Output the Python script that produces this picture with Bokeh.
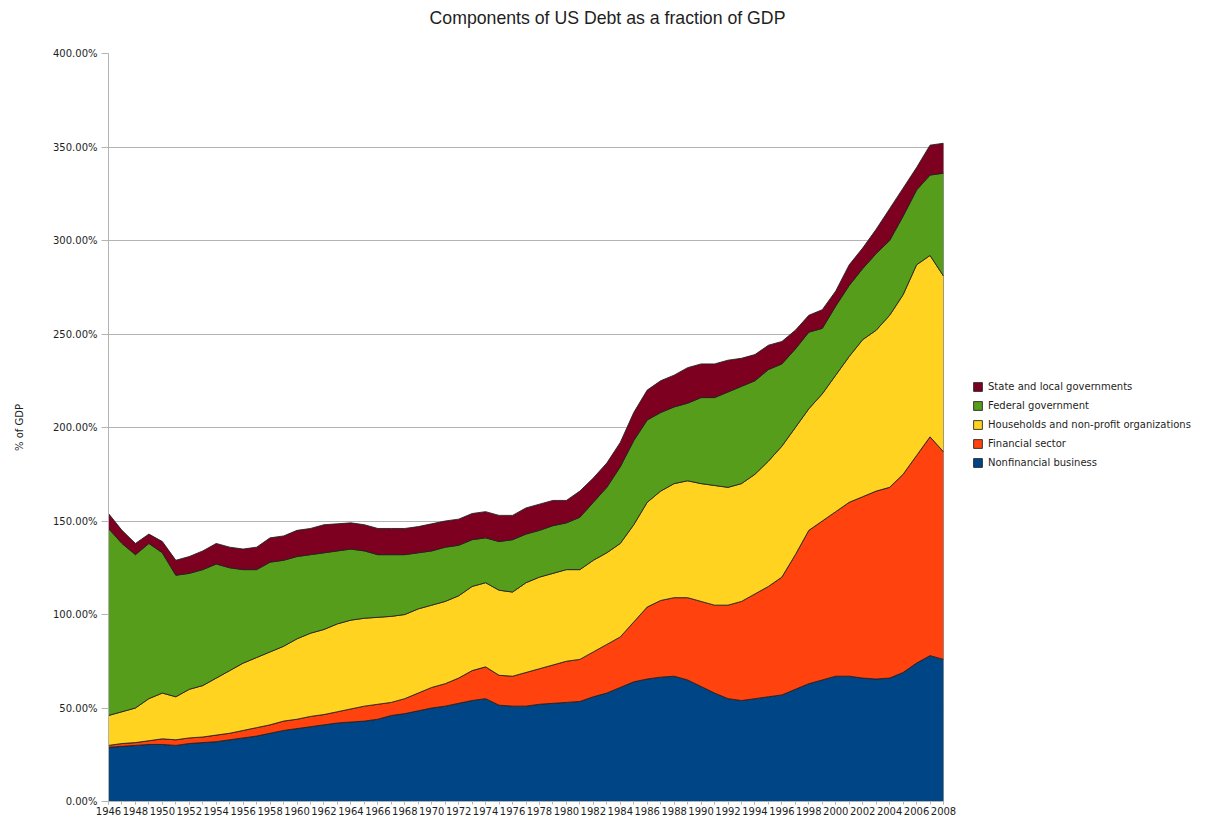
import numpy as np
from bokeh.plotting import figure
from bokeh.layouts import row, column
from bokeh.models import Range1d, FixedTicker, PrintfTickFormatter, Legend, LegendItem, Label
from bokeh.embed import file_html
from bokeh.resources import INLINE

# ---------------- data (percent of GDP) ----------------
years = list(range(1946, 2009))

nonfinancial_business = [
    29, 29.5, 30, 30.5, 30.5, 30, 31, 31.5, 32, 33,
    34, 35, 36.5, 38, 39, 40, 41, 42, 42.5, 43,
    44, 46, 47, 48.5, 50, 51, 52.5, 54, 55, 51.5,
    51, 51, 52, 52.5, 53, 53.5, 56, 58, 61, 64,
    65.5, 66.5, 67, 65, 61.5, 58, 55, 54, 55, 56,
    57, 60, 63, 65, 67, 67, 66, 65.5, 66, 69,
    74, 78, 76]

financial_sector = [
    1, 1.5, 1.5, 2, 3, 3, 3, 3, 3.5, 3.5,
    4, 4.5, 4.5, 5, 5, 5.5, 5.5, 6, 7, 8,
    8, 7, 8, 9.5, 11, 12, 13.5, 16, 17, 16,
    16, 18, 19, 20.5, 22, 22.5, 24, 26, 27, 32,
    38.5, 41, 42, 44, 45.5, 47, 50, 53, 56, 59,
    63, 72, 82, 85, 88, 93, 97, 100.5, 102, 106,
    111, 117, 111]

households_nonprofit = [
    16, 17, 18.5, 22.5, 24.5, 23, 26, 27.5, 30.5, 33.5,
    36, 37.5, 39, 40, 43, 44.5, 45.5, 47, 47.5, 47,
    46.5, 46, 45, 45, 44, 44, 44, 45, 45, 45.5,
    45, 48, 49, 49, 49, 48, 49, 49, 50, 52,
    56, 58.5, 61, 62.5, 63, 64, 63, 63, 64, 67,
    70, 68, 65, 68, 73, 78, 84, 86, 92, 96,
    102, 97, 94]

federal_government = [
    100, 90, 82, 83, 75, 65, 62, 62, 61, 55,
    50, 47, 48, 46, 44, 42, 41, 39, 38, 36,
    33.5, 33, 32, 30, 29, 29, 27, 25, 24, 26,
    28, 26, 25, 25.5, 25, 28, 31, 35, 41, 45,
    44, 42, 41, 41.5, 46, 47, 51, 52, 50, 49,
    44, 42, 41, 35, 37, 38, 38, 41, 40, 42,
    40, 43, 55]

state_local_governments = [
    8, 7, 6, 5, 6, 8, 9, 10, 11, 11,
    11, 12, 13, 13, 14, 14, 15, 14.5, 14, 14,
    14, 14, 14, 14, 14.5, 14, 14, 14, 14, 14,
    13, 14, 14, 13.5, 12, 14, 13, 13, 13, 15,
    16, 17, 17, 19, 18, 18, 17, 15, 14, 13,
    12, 10, 9, 10, 8, 11, 11, 13, 17, 15,
    12, 16, 16]

series = [
    ("Nonfinancial business", nonfinancial_business, "#004586"),
    ("Financial sector", financial_sector, "#ff420e"),
    ("Households and non-profit organizations", households_nonprofit, "#ffd320"),
    ("Federal government", federal_government, "#579d1c"),
    ("State and local governments", state_local_governments, "#7e0021"),
]

y_ticks = [0, 50, 100, 150, 200, 250, 300, 350, 400]
x_label_years = years[::2]

TITLE = "Components of US Debt as a fraction of GDP"
SMALL_FONT = "DejaVu Sans"
TEXT_COLOR = "#1e1e1e"
GRID_COLOR = "#b3b3b3"
OUTLINE = "#202020"


def bare(fig):
    fig.axis.visible = False
    fig.grid.visible = False
    fig.outline_line_color = None
    fig.background_fill_color = "white"
    fig.border_fill_color = "white"


# ---------------- title strip ----------------
TITLE_W, TITLE_H = 1197, 45
pt = figure(width=TITLE_W, height=TITLE_H, output_backend="svg", toolbar_location=None,
            x_range=Range1d(0, TITLE_W), y_range=Range1d(0, TITLE_H), min_border=0)
bare(pt)
pt.add_layout(Label(x=607, y=28, text=TITLE, text_align="center", text_baseline="middle",
                    text_font="Liberation Sans", text_font_size="17.7px",
                    text_color=TEXT_COLOR))

# ---------------- main chart ----------------
p = figure(frame_width=835, frame_height=748, output_backend="svg", toolbar_location=None,
           x_range=Range1d(years[0], years[-1]), y_range=Range1d(0, 400),
           min_border_left=108, min_border_right=15, min_border_top=8,
           min_border_bottom=17)

p.outline_line_color = None
p.background_fill_color = "white"
p.border_fill_color = "white"

# stacked areas
bottom = np.zeros(len(years))
for name, vals, color in series:
    top = bottom + np.asarray(vals, dtype=float)
    xs = list(years) + list(years[::-1])
    ys = list(top) + list(bottom[::-1])
    p.patch(xs, ys, fill_color=color, line_color=OUTLINE, line_width=1, line_alpha=0.85)
    bottom = top

# axes
p.yaxis.ticker = FixedTicker(ticks=y_ticks)
p.yaxis.formatter = PrintfTickFormatter(format="%.2f%%")
p.yaxis.axis_line_color = GRID_COLOR
p.yaxis.major_tick_line_color = GRID_COLOR
p.yaxis.major_tick_out = 7
p.yaxis.major_tick_in = 0
p.yaxis.minor_tick_line_color = None
p.yaxis.major_label_standoff = 4
p.yaxis.major_label_text_font = SMALL_FONT
p.yaxis.major_label_text_font_size = "10px"
p.yaxis.major_label_text_color = TEXT_COLOR
p.yaxis.axis_label = "% of GDP"
p.yaxis.axis_label_text_font = SMALL_FONT
p.yaxis.axis_label_text_font_size = "10px"
p.yaxis.axis_label_text_font_style = "normal"
p.yaxis.axis_label_text_color = TEXT_COLOR
p.yaxis.axis_label_standoff = 25

p.xaxis.ticker = FixedTicker(ticks=x_label_years, minor_ticks=years)
p.xaxis.axis_line_color = GRID_COLOR
p.xaxis.major_tick_line_color = GRID_COLOR
p.xaxis.minor_tick_line_color = GRID_COLOR
p.xaxis.major_tick_out = 3
p.xaxis.major_tick_in = 0
p.xaxis.minor_tick_out = 3
p.xaxis.minor_tick_in = 0
p.xaxis.major_label_standoff = 2
p.xaxis.major_label_text_font = SMALL_FONT
p.xaxis.major_label_text_font_size = "10px"
p.xaxis.major_label_text_color = TEXT_COLOR

p.xgrid.grid_line_color = None
p.ygrid.ticker = FixedTicker(ticks=y_ticks)
p.ygrid.grid_line_color = GRID_COLOR
p.ygrid.grid_line_width = 1

# ---------------- legend panel (right) ----------------
p2 = figure(width=239, height=773, output_backend="svg", toolbar_location=None,
            x_range=Range1d(0, 1), y_range=Range1d(0, 1), min_border=0)
bare(p2)

items = []
for name, vals, color in reversed(series):
    key = p2.patch(x=[np.nan], y=[np.nan], fill_color=color, line_color=OUTLINE,
                   line_width=1, line_alpha=0.85)
    items.append(LegendItem(label=name, renderers=[key]))

legend = Legend(items=items, location=(14, 331), margin=0, padding=5,
                spacing=4, label_height=15, glyph_width=11, glyph_height=11,
                label_standoff=5, label_text_font=SMALL_FONT,
                label_text_font_size="10px", label_text_color=TEXT_COLOR,
                border_line_color=None, background_fill_alpha=0)
p2.add_layout(legend, "center")

layout = column(pt, row(p, p2))
open("out.html", "w").write(file_html(layout, INLINE))
